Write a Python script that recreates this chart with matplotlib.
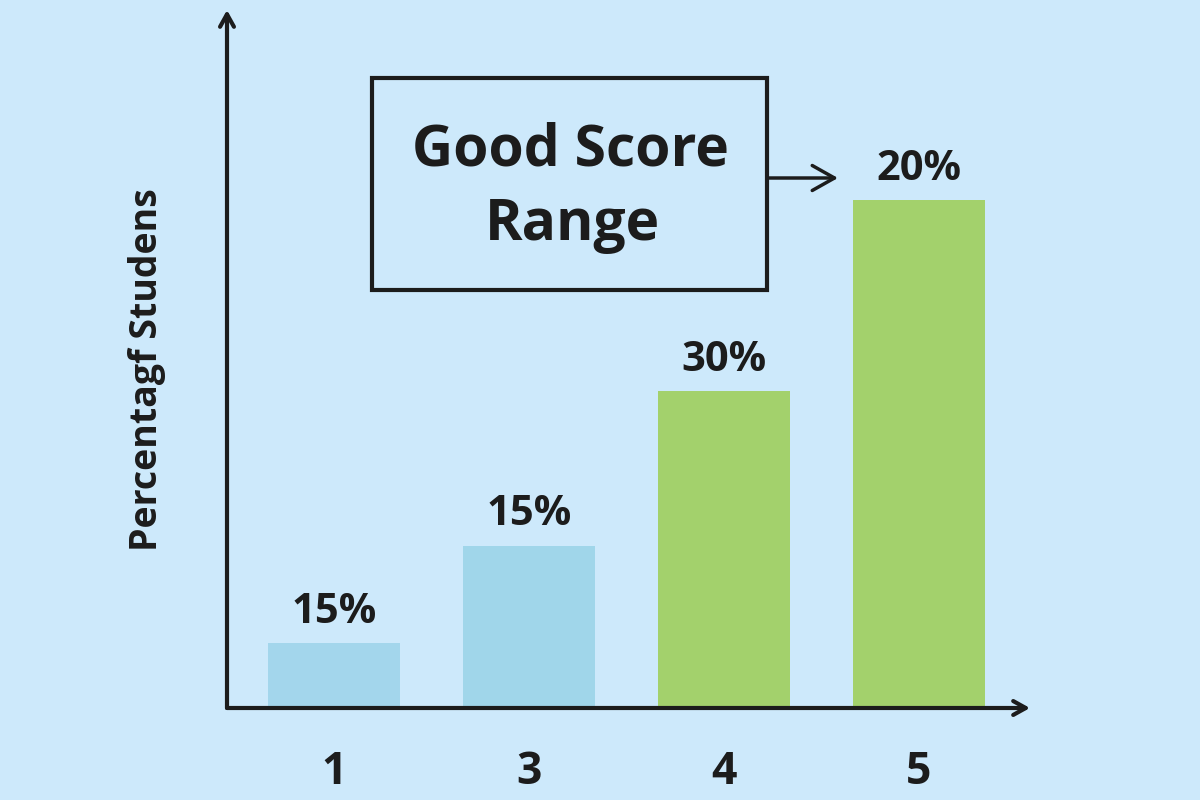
import matplotlib.pyplot as plt
from matplotlib.patches import Rectangle, FancyArrowPatch

plt.switch_backend('Agg')
plt.rcParams['font.family'] = ['Open Sans', 'DejaVu Sans']

# data
categorias = ['1', '3', '4', '5']
alturas = [5.1, 12.8, 25.0, 40.0]
etiquetas = ['15%', '15%', '30%', '20%']
colores = ['#a3d6ec', '#a0d6ea', '#a3d16c', '#a3d16c']

fondo = '#cde9fb'
tinta = '#1c1c1c'

fig = plt.figure(figsize=(12, 8), dpi=100, facecolor=fondo)
ax = fig.add_axes([227 / 1200, 92 / 800, 803 / 1200, 698 / 800])
ax.set_facecolor(fondo)

x = list(range(len(categorias)))
ax.bar(x, alturas, width=0.68, color=colores, zorder=2)
ax.set_xlim(-0.55, 3.57)
ax.set_ylim(0, 55)

for xi, h, et in zip(x, alturas, etiquetas):
    ax.text(xi, h + 0.8, et, ha='center', va='bottom', fontsize=30,
            fontweight='bold', color=tinta)

for s in ax.spines.values():
    s.set_visible(False)
ax.set_yticks([])
ax.set_xticks(x)
ax.set_xticklabels(categorias, fontsize=32, fontweight='bold', color=tinta)
ax.tick_params(axis='x', length=0, pad=30)

# ejes con flecha
flecha = dict(arrowstyle='->,head_length=0.9,head_width=0.5', lw=3, color=tinta,
              shrinkA=0, shrinkB=0)
ax.annotate('', xy=(0, 1), xytext=(0, 0), xycoords='axes fraction',
            arrowprops=flecha, annotation_clip=False)
ax.annotate('', xy=(1, 0), xytext=(0, 0), xycoords='axes fraction',
            arrowprops=flecha, annotation_clip=False)

fig.text(147 / 1200, 1 - 370 / 800, 'Percentagf Studens', rotation=90,
         ha='center', va='center', fontsize=27, fontweight='bold', color=tinta)

# caja "Good Score Range"
caja = Rectangle((372 / 1200, 1 - 290 / 800), 395 / 1200, 212 / 800,
                 transform=fig.transFigure, fill=False, lw=3, edgecolor=tinta)
fig.patches.append(caja)
fig.text(570 / 1200, 1 - 150 / 800, 'Good Score', ha='center', va='center',
         fontsize=41, fontweight='bold', color=tinta)
fig.text(572 / 1200, 1 - 225 / 800, 'Range', ha='center', va='center',
         fontsize=41, fontweight='bold', color=tinta)
fig.add_artist(FancyArrowPatch(
    (767 / 1200, 1 - 178 / 800), (838 / 1200, 1 - 178 / 800),
    transform=fig.transFigure, arrowstyle='->,head_length=0.8,head_width=0.45',
    mutation_scale=20, lw=2.5, color=tinta, shrinkA=0, shrinkB=0))

plt.savefig('out.png', dpi=100, facecolor=fondo)
